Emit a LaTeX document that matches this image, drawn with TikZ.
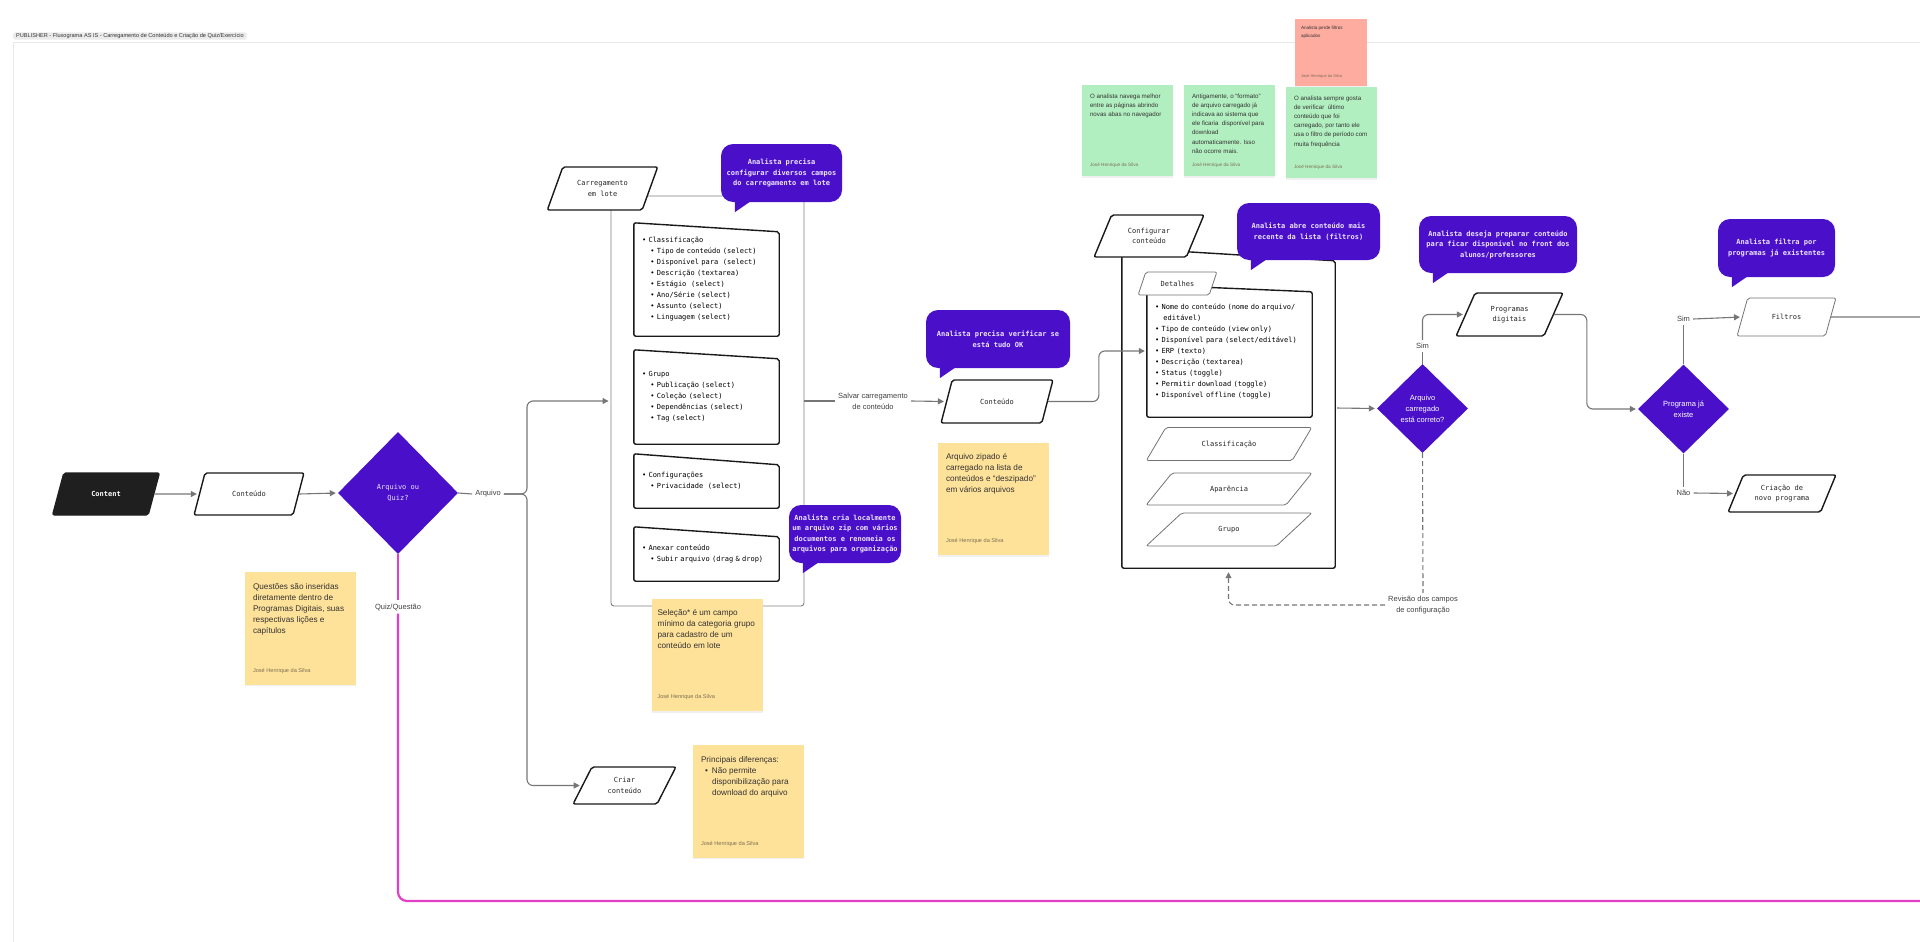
\documentclass[tikz,border=0pt]{standalone}
\usepackage{fontspec}
\setmainfont{Liberation Sans}
\setmonofont{DejaVu Sans Mono}
\usetikzlibrary{shapes.geometric,arrows.meta,shadows}

\definecolor{purp}{RGB}{74,16,201}
\definecolor{bubtext}{RGB}{238,228,255}
\definecolor{noteyellow}{RGB}{255,226,153}
\definecolor{notegreen}{RGB}{178,239,192}
\definecolor{notered}{RGB}{255,172,160}
\definecolor{quizpink}{RGB}{228,62,200}
\definecolor{flowgray}{RGB}{118,118,118}
\definecolor{framegray}{RGB}{232,232,232}
\definecolor{authgray}{RGB}{125,112,85}

\newcommand\autor[1][5.6]{{\fontsize{#1}{#1}\selectfont\color{authgray}José Henrique da Silva}}
\newcommand\subit{\hspace*{8.4pt}}
\newcommand\bubtail[1]{\fill[purp] ([xshift=14pt,yshift=1pt]#1.south west) -- ++(0,11) -- ++(16,-11) -- cycle;}
\newcommand\slanttop[2]{\draw[black!90,line width=1.4pt,rounded corners=2pt] (#1.south west) -- (#1.north west) -- ([yshift=-#2]#1.north east) -- (#1.south east) -- cycle;}

\tikzset{
  para/.style={trapezium, trapezium left angle=60, trapezium right angle=120,
    trapezium stretches=true, draw=black!90, line width=1.4pt, fill=white,
    rounded corners=2pt, inner sep=1pt, align=center, text=black!85,
    font=\ttfamily\fontsize{7}{10.5}\selectfont},
  flatpara/.style={para, trapezium left angle=45, trapezium right angle=135,
    draw=black!55, line width=0.8pt},
  decision/.style={diamond, fill=purp, inner sep=0pt, align=center, text=white,
    font=\fontsize{7.5}{11}\selectfont},
  bubble/.style={rectangle, rounded corners=12pt, fill=purp, text=bubtext,
    inner sep=0pt, align=center, font=\ttfamily\bfseries\fontsize{7}{10.5}\selectfont},
  listbox/.style={rectangle, inner xsep=8pt, inner ysep=0pt, align=left,
    minimum width=145pt, text width=129pt, font=\ttfamily\fontsize{7}{11}\selectfont},
  note/.style={rectangle, inner xsep=6pt, inner ysep=11pt, text=black!80,
    drop shadow={opacity=0.12, shadow xshift=0pt, shadow yshift=-1.5pt},
    font=\fontsize{8.2}{11}\selectfont},
  lbl/.style={inner sep=3pt, align=center, text=black!75, font=\fontsize{7.5}{11}\selectfont},
  flow/.style={draw=flowgray, line width=1.1pt, rounded corners=6pt},
  flowarrow/.style={flow, -{Triangle[length=6pt,width=6pt]}, shorten >=2pt},
  dashflow/.style={flow, dash pattern=on 5pt off 3pt},
  quizline/.style={draw=quizpink, line width=2.2pt, rounded corners=9pt}
}

\begin{document}
\begin{tikzpicture}[x=1pt,y=-1pt]
\useasboundingbox (0,0) rectangle (1920,942);
\draw[framegray, line width=0.8pt] (1920,42) -- (13,42) -- (13,942);
\node[anchor=west, fill=black!8, rounded corners=1.5pt, inner xsep=3pt, inner ysep=1pt, minimum height=7pt, text=black!80, font=\fontsize{5.6}{6}\selectfont] (titulo) at (13,36) {PUBLISHER - Fluxograma AS IS - Carregamento de Conteúdo e Criação de Quiz/Exercício};

\node[note, fill=notered, inner xsep=6pt, inner ysep=8pt, font=\fontsize{4.6}{7.5}\selectfont] (nfiltro) at (1331,52.5) {\parbox[c][51pt][s]{60pt}{\raggedright Analista perde filtros\\aplicados\par\vfill\autor[4]}};
\node[note, fill=notegreen, inner xsep=8pt, inner ysep=9pt, font=\fontsize{6.2}{9.2}\selectfont] (nabas) at (1127.5,130.5) {\parbox[c][73pt][s]{75pt}{\raggedright O analista navega melhor\\entre as páginas abrindo\\novas abas no navegador\par\vfill\autor[4.7]}};
\node[note, fill=notegreen, inner xsep=8pt, inner ysep=9pt, font=\fontsize{6.2}{9.2}\selectfont] (nformato) at (1229.5,130.5) {\parbox[c][73pt][s]{75pt}{\raggedright Antigamente, o “formato”\\de arquivo carregado já\\indicava ao sistema que\\ele ficaria\ \ disponível para\\download\\automaticamente. Isso\\não ocorre mais.\par\vfill\autor[4.7]}};
\node[note, fill=notegreen, inner xsep=8pt, inner ysep=9pt, font=\fontsize{6.2}{9.2}\selectfont] (nperiodo) at (1331.5,132.5) {\parbox[c][73pt][s]{75pt}{\raggedright O analista sempre gosta\\de verificar\ \ último\\conteúdo que foi\\carregado, por tanto ele\\usa o filtro de período com\\muita frequência\par\vfill\autor[4.7]}};

\node[para, fill=black!88, draw=black!88, text=white, font=\ttfamily\bfseries\fontsize{7}{10}\selectfont, minimum width=107pt, minimum height=42pt] (content) at (106,494) {Content};
\node[para, minimum width=110pt, minimum height=42pt] (c1) at (249,494) {Conteúdo};
\node[decision, minimum width=120pt, minimum height=122pt, text=bubtext, font=\ttfamily\fontsize{7}{11}\selectfont] (q) at (398,493) {Arquivo ou\\Quiz?};
\node[lbl] (arq) at (488,494) {Arquivo};
\node[lbl] (quiz) at (398,607) {Quiz/Questão};
\coordinate (split) at (527,494);
\coordinate (qout) at (1920,901);
\node[note, fill=noteyellow, inner xsep=8pt] (nquiz) at (300.5,628.5) {\parbox[c][89pt][s]{95pt}{\raggedright Questões são inseridas\\diretamente dentro de\\Programas Digitais, suas\\respectivas lições e\\capítulos\par\vfill\autor}};

\node[draw=black!50, line width=0.9pt, rounded corners=3pt, minimum width=193pt, minimum height=410pt] (lote) at (707.5,401) {};
\node[para, minimum width=111pt, minimum height=43pt] (lotehd) at (602.5,188.5) {Carregamento\\em lote};
\node[listbox, minimum height=113pt] (lclass) at (706.5,279.5) {• Classificação\\
\subit • Tipo de conteúdo (select)\\
\subit • Disponível para\ \ (select)\\
\subit • Descrição (textarea)\\
\subit • Estágio\ \ (select)\\
\subit • Ano/Série (select)\\
\subit • Assunto (select)\\
\subit • Linguagem (select)};
\slanttop{lclass}{9pt}
\node[listbox, minimum height=94pt] (lgrupo) at (706.5,397) {• Grupo\\
\subit • Publicação (select)\\
\subit • Coleção (select)\\
\subit • Dependências (select)\\
\subit • Tag (select)};
\slanttop{lgrupo}{9pt}
\node[listbox, minimum height=54pt] (lconf) at (706.5,481) {• Configurações\\
\subit • Privacidade\ \ (select)};
\slanttop{lconf}{11pt}
\node[listbox, minimum height=54pt] (lanexo) at (706.5,554) {• Anexar conteúdo\\
\subit • Subir arquivo (drag \& drop)};
\slanttop{lanexo}{10pt}
\node[bubble, minimum width=121pt, minimum height=58pt] (b1) at (781.5,173) {Analista precisa\\configurar diversos campos\\do carregamento em lote};
\bubtail{b1}
\node[bubble, minimum width=112pt, minimum height=58pt] (b2) at (845,534) {Analista cria localmente\\um arquivo zip com vários\\documentos e renomeia os\\arquivos para organização};
\bubtail{b2}
\node[note, fill=noteyellow] (nselecao) at (707,655) {\parbox[c][89pt][s]{99pt}{\raggedright Seleção* é um campo\\mínimo da categoria grupo\\para cadastro de um\\conteúdo em lote\par\vfill\autor}};
\node[para, minimum width=103pt, minimum height=37pt] (criar) at (624.5,785.5) {Criar\\conteúdo};
\node[note, fill=noteyellow, inner xsep=8pt] (ndifer) at (748.5,801.5) {\parbox[c][89pt][s]{95pt}{\raggedright Principais diferenças:\\
\hspace*{4pt}•\hspace{4pt}Não permite\\
\hspace*{11pt}disponibilização para\\
\hspace*{11pt}download do arquivo\par\vfill\autor}};

\node[lbl] (salvar) at (873,401) {Salvar carregamento\\de conteúdo};
\node[para, minimum width=112pt, minimum height=43pt] (c2) at (997,401.5) {Conteúdo};
\node[bubble, minimum width=144pt, minimum height=58pt] (b3) at (998,339) {Analista precisa verificar se\\está tudo OK};
\bubtail{b3}
\node[note, fill=noteyellow, inner xsep=8pt] (nzip) at (993.5,499) {\parbox[c][89pt][s]{95pt}{\raggedright Arquivo zipado é\\carregado na lista de\\conteúdos e “deszipado”\\em vários arquivos\par\vfill\autor}};

\node[minimum width=213pt, minimum height=320pt] (cfgbox) at (1228.5,408) {};
\slanttop{cfgbox}{13pt}
\node[para, minimum width=110pt, minimum height=42pt] (cfghd) at (1149,236) {Configurar\\conteúdo};
\node[listbox, minimum width=165pt, text width=149pt, minimum height=132pt] (detbox) at (1229.5,351) {• Nome do conteúdo (nome do arquivo/\\
\subit editável)\\
• Tipo de conteúdo (view only)\\
• Disponível para (select/editável)\\
• ERP (texto)\\
• Descrição (textarea)\\
• Status (toggle)\\
• Permitir download (toggle)\\
• Disponível offline (toggle)};
\slanttop{detbox}{7pt}
\node[para, draw=black!55, line width=0.8pt, minimum width=79pt, minimum height=23pt] (dethd) at (1177.5,283.5) {Detalhes};
\node[flatpara, minimum width=166pt, minimum height=33pt] (cls) at (1229,444) {Classificação};
\node[flatpara, minimum width=166pt, minimum height=32pt] (apr) at (1229,489) {Aparência};
\node[flatpara, minimum width=166pt, minimum height=33pt] (grp) at (1229,529.5) {Grupo};
\node[bubble, minimum width=143pt, minimum height=57pt] (b4) at (1308.5,231.5) {Analista abre conteúdo mais\\recente da lista (filtros)};
\bubtail{b4}

\node[decision, minimum width=91pt, minimum height=89pt] (d2) at (1422.5,408.5) {Arquivo\\carregado\\está correto?};
\node[lbl] (sim1) at (1422.5,346) {Sim};
\node[lbl] (rev) at (1423,605) {Revisão dos campos\\de configuração};
\node[para, minimum width=107pt, minimum height=43pt] (pd) at (1509.5,314.5) {Programas\\digitais};
\node[bubble, minimum width=158pt, minimum height=57pt] (b5) at (1498,244.5) {Analista deseja preparar conteúdo\\para ficar disponível no front dos\\alunos/professores};
\bubtail{b5}
\node[decision, minimum width=91pt, minimum height=89pt] (d3) at (1683.5,409) {Programa já\\existe};
\node[lbl] (sim2) at (1683.5,319) {Sim};
\node[flatpara, trapezium left angle=60, trapezium right angle=120, minimum width=99pt, minimum height=38pt] (filt) at (1786.5,317) {Filtros};
\node[bubble, minimum width=117pt, minimum height=58pt] (b6) at (1776.5,248) {Analista filtra por\\programas já existentes};
\bubtail{b6}
\node[lbl] (nao) at (1683.5,493) {Não};
\node[para, minimum width=108pt, minimum height=37pt] (novo) at (1782,493.5) {Criação de\\novo programa};
\coordinate (fout) at (1920,317);

\draw[flowarrow] (content.east) -- (c1.west);
\draw[flowarrow] (c1.east) -- (q.west);
\draw[flow] (q.east) -- (arq.west);
\draw[flowarrow] (arq.east) -- (split) |- (lote.west);
\draw[flowarrow] (arq.east) -- (split) |- (criar.west);
\draw[quizline] (q.south) -- (quiz.north);
\draw[quizline] (quiz.south) |- (qout);
\draw[flow] (lote.east) -- (salvar.west);
\draw[flowarrow] (salvar.east) -- (c2.west);
\draw[flowarrow] (c2.east) -| ([xshift=-48pt]detbox.west) -- (detbox.west);
\draw[flowarrow, shorten <=2pt] (cfgbox.east) -- (d2.west);
\draw[flow] (d2.north) -- (sim1.south);
\draw[flowarrow] (sim1.north) |- (pd.west);
\draw[dashflow] (d2.south) -- (rev.north);
\draw[dashflow, -{Triangle[length=6pt,width=6pt]}, shorten >=4pt] (rev.west) -| (cfgbox.south);
\draw[flowarrow] (pd.east) -| ([xshift=-51pt]d3.west) -- (d3.west);
\draw[flow] (d3.north) -- (sim2.south);
\draw[flowarrow] (sim2.east) -- (filt.west);
\draw[flow] (filt.east) -- (fout);
\draw[flow] (d3.south) -- (nao.north);
\draw[flowarrow] (nao.east) -- (novo.west);
\end{tikzpicture}
\end{document}
